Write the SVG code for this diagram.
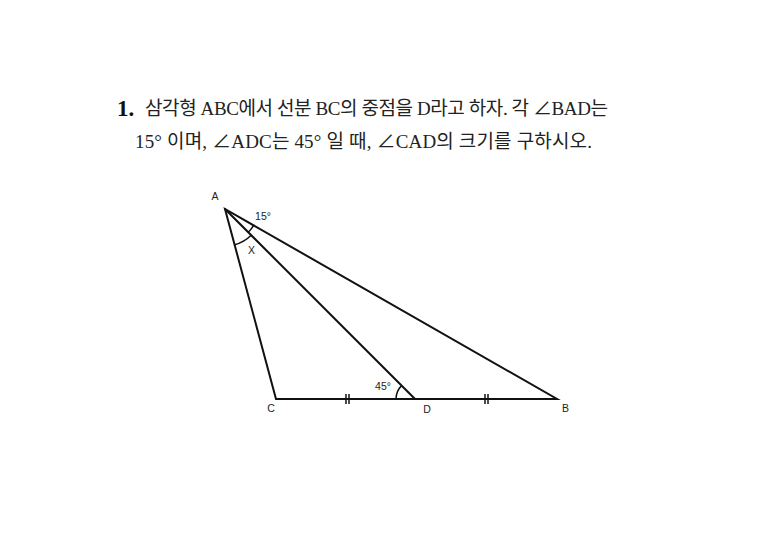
<svg xmlns="http://www.w3.org/2000/svg" width="768" height="538" viewBox="0 0 768 538">
<style>
.q{font-family:"Liberation Serif","Noto Sans CJK KR",serif;font-size:19px;fill:#222}
.num{font-family:"Liberation Serif",serif;font-size:23px;font-weight:bold;fill:#111}
.ln{stroke:#111;stroke-width:2;fill:none;stroke-linecap:round}
.arc{stroke:#111;stroke-width:1.5;fill:none}
.lb{font-family:"Liberation Sans","Open Sans",sans-serif;font-size:10.5px;fill:#222;text-anchor:middle}
</style>
<rect width="768" height="538" fill="#fff"/>
<g id="question">
<text class="num" x="117" y="116">1.</text>
<text class="q" x="145" y="115" textLength="463">삼각형 ABC에서 선분 BC의 중점을 D라고 하자. 각 ∠BAD는</text>
<text class="q" x="135" y="148" textLength="457">15° 이며, ∠ADC는 45° 일 때, ∠CAD의 크기를 구하시오.</text>
</g>
<g id="figure">
<g id="triangle">
<polygon class="ln" points="225,209 276,399 557,399"/>
<line class="ln" x1="225" y1="209" x2="415" y2="399"/>
</g>
<g id="arcs">
<path class="arc" d="M253.6,225.4 A33,33 0 0 1 248.3,232.3"/>
<path class="arc" d="M251.2,235.2 A37,37 0 0 1 234.6,244.7"/>
<path class="arc" d="M396,399 A19,19 0 0 1 401.6,385.6"/>
</g>
<g id="ticks">
<line class="arc" x1="346" y1="394" x2="346" y2="404"/>
<line class="arc" x1="349" y1="394" x2="349" y2="404"/>
<line class="arc" x1="485" y1="394" x2="485" y2="404"/>
<line class="arc" x1="488" y1="394" x2="488" y2="404"/>
</g>
<g id="labels">
<text class="lb" x="215" y="200">A</text>
<text class="lb" x="263" y="220">15°</text>
<text class="lb" x="251.5" y="253.5">X</text>
<text class="lb" x="383" y="390">45°</text>
<text class="lb" x="271" y="411.5">C</text>
<text class="lb" x="427" y="412.5">D</text>
<text class="lb" x="565.5" y="411.5">B</text>
</g>
</g>
</svg>
